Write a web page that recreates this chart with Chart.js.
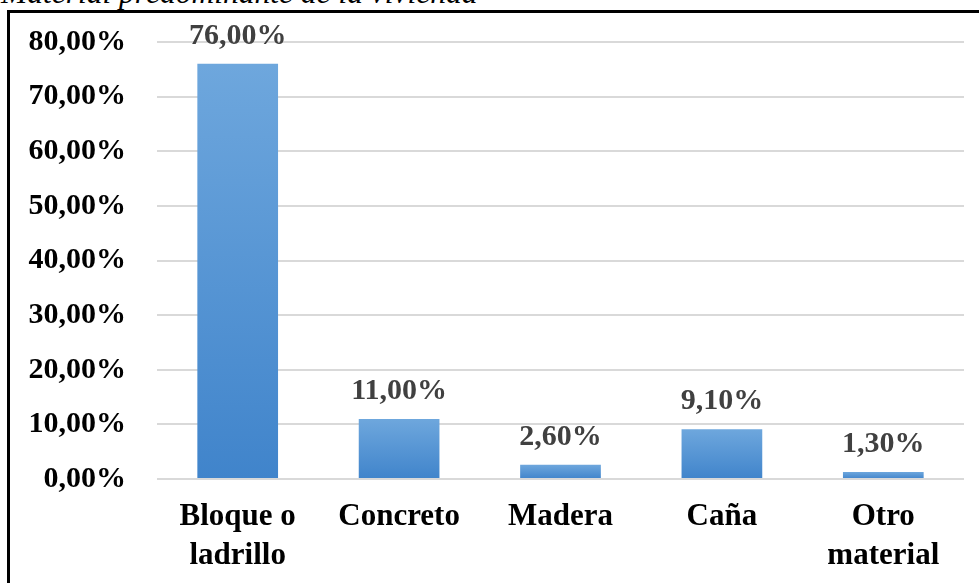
<!DOCTYPE html>
<html>
<head>
<meta charset="utf-8">
<script src="https://cdn.jsdelivr.net/npm/chart.js@4/dist/chart.umd.min.js"></script>
<style>
  html,body{ margin:0; padding:0; background:#fff; overflow:hidden }
  .wrap{ position:relative; width:979px; height:583px; overflow:hidden }
  .title{ position:absolute; left:1px; top:-23px; font:italic 31.5px "Liberation Serif","Times New Roman",serif; line-height:32px; color:#000; white-space:nowrap }
  .frame{ position:absolute; left:7px; top:10px; width:990px; height:600px; border-top:3px solid #000; border-left:3px solid #000 }
  .wrap canvas{ position:absolute; left:0; top:0 }
</style>
</head>
<body>
<div class="wrap">
  <div class="title">Material predominante de la vivienda</div>
  <div class="frame"></div>
  <canvas id="c" width="979" height="583"></canvas>
</div>
<script>
// data
const categories = [['Bloque o','ladrillo'], 'Concreto', 'Madera', 'Caña', ['Otro','material']];
const values = [76.0, 11.0, 2.6, 9.1, 1.3];
const yTicks = [0, 10, 20, 30, 40, 50, 60, 70, 80];

const fmt = v => v.toFixed(2).replace('.', ',') + '%';
const serif = '"Liberation Serif","Times New Roman",serif';

// gradient per bar, lighter at top
function barFill(ctx){
  const chart = ctx.chart;
  const y = chart.scales && chart.scales.y;
  if(!chart.chartArea || !y || ctx.raw == null) return '#5b9bd5';
  const top = y.getPixelForValue(ctx.raw), base = y.getPixelForValue(0);
  const g = chart.ctx.createLinearGradient(0, top, 0, base);
  g.addColorStop(0, '#6ea7dd');
  g.addColorStop(1, '#4084cb');
  return g;
}

// value labels over bars
const valueLabels = {
  id:'valueLabels',
  afterDatasetsDraw(chart){
    const c = chart.ctx;
    const meta = chart.getDatasetMeta(0);
    c.save();
    c.font = 'bold 30px ' + serif;
    c.fillStyle = '#404040';
    c.textAlign = 'center';
    c.textBaseline = 'alphabetic';
    meta.data.forEach((bar, i) => {
      c.fillText(fmt(values[i]), bar.x, bar.y - 20);
    });
    c.restore();
  }
};

new Chart(document.getElementById('c'), {
  type:'bar',
  data:{ labels:categories, datasets:[{ data:values, backgroundColor:barFill, borderWidth:0,
    barPercentage:0.5, categoryPercentage:1.0 }] },
  options:{
    responsive:false, animation:false,
    layout:{ padding:{ left:20, right:15, top:42, bottom:0 } },
    plugins:{ legend:{display:false}, tooltip:{enabled:false} },
    scales:{
      x:{
        grid:{ display:false, drawTicks:false },
        border:{ display:false },
        ticks:{ color:'#000', font:{ family:serif, size:31, weight:'bold', lineHeight:1.25 }, padding:19, maxRotation:0, autoSkip:false },
        afterFit(s){ s.height = 104; s.paddingLeft = 0; s.paddingRight = 0; }
      },
      y:{
        min:0, max:80,
        afterBuildTicks(s){ s.ticks = yTicks.map(v => ({ value:v })); },
        grid:{ color:'#d9d9d9', lineWidth:2, drawTicks:false },
        border:{ display:false },
        ticks:{ color:'#000', font:{ family:serif, size:30, weight:'bold' }, padding:31, callback:v => fmt(v) },
        afterFit(s){ s.width = 137; s.paddingTop = 0; s.paddingBottom = 0; }
      }
    }
  },
  plugins:[valueLabels]
});
</script>
</body>
</html>
